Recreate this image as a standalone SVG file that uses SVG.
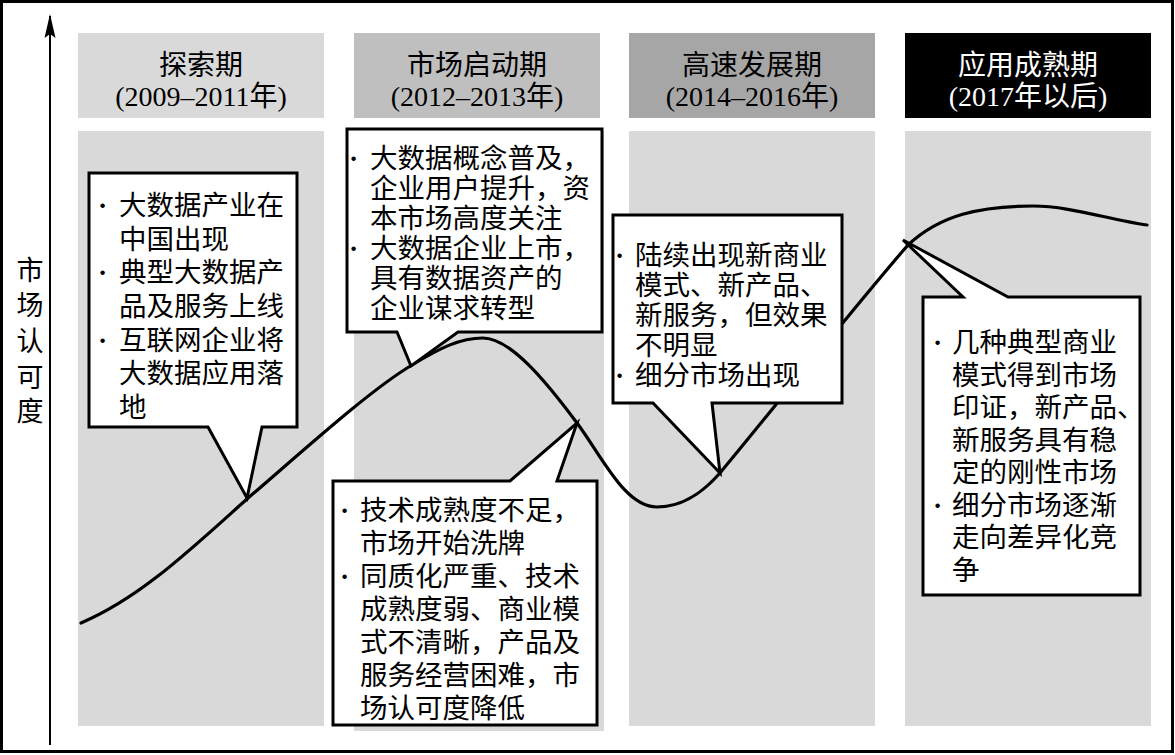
<svg xmlns="http://www.w3.org/2000/svg" width="1175" height="755" viewBox="0 0 1175 755">
<style>
  .t{font-family:"Liberation Serif","Noto Sans CJK SC",serif;fill:#000}
  .h{font-size:28px;text-anchor:middle}
  .c{font-size:27.5px}
  .b{font-weight:bold}
  .col{fill:#d9d9d9}
  .co{fill:#fff;stroke:#000;stroke-width:3;stroke-linejoin:miter}
</style>
<rect x="0" y="0" width="1175" height="755" fill="#fff"/>
<rect x="1.5" y="1.5" width="1171" height="750" fill="none" stroke="#000" stroke-width="3"/>

<!-- axis -->
<g id="axis">
  <line x1="50" y1="745" x2="50" y2="16" stroke="#000" stroke-width="2"/>
  <path d="M50,14 L55.5,38 L50,34 L44.5,38 Z" fill="#000"/>
  <g class="t" font-size="27" text-anchor="middle">
    <text x="30" y="280">市</text>
    <text x="30" y="315">场</text>
    <text x="30" y="351">认</text>
    <text x="30" y="387">可</text>
    <text x="30" y="421">度</text>
  </g>
</g>

<!-- stage columns -->
<g id="stage1">
  <rect x="78" y="33" width="246" height="85" fill="#d9d9d9"/>
  <rect class="col" x="78" y="131" width="246" height="595"/>
  <text class="t h" x="201" y="75">探索期</text>
  <text class="t h" x="201" y="106">(2009–2011年)</text>
</g>
<g id="stage2">
  <rect x="354" y="33" width="246" height="85" fill="#bfbfbf"/>
  <rect class="col" x="354" y="131" width="250" height="600"/>
  <text class="t h" x="477" y="75">市场启动期</text>
  <text class="t h" x="477" y="106">(2012–2013年)</text>
</g>
<g id="stage3">
  <rect x="629" y="33" width="246" height="85" fill="#a6a6a6"/>
  <rect class="col" x="629" y="131" width="246" height="595"/>
  <text class="t h" x="752" y="75">高速发展期</text>
  <text class="t h" x="752" y="106">(2014–2016年)</text>
</g>
<g id="stage4">
  <rect x="905" y="33" width="246" height="85" fill="#000"/>
  <rect class="col" x="905" y="131" width="246" height="595"/>
  <text class="t h" x="1028" y="75" style="fill:#fff">应用成熟期</text>
  <text class="t h" x="1028" y="106" style="fill:#fff">(2017年以后)</text>
</g>

<!-- connectors: market curve -->
<g id="connectors">
  <path d="M81,623 C140,598 190,550 247,499 C304,450 370,390 412,365 C440,348 460,338 483,338 C510,338 545,380 577,423 C603,458 625,507 657,507 C685,507 705,490 720,473 C760,425 860,300 908,245 C940,215 980,206 1033,206 C1070,206 1110,220 1147,225" fill="none" stroke="#000" stroke-width="3.2" stroke-linecap="round"/>
</g>

<!-- callouts -->
<g id="callout1">
  <path class="co" d="M89,173 H297 V427 H262 L247,498 L208,427 H89 Z"/>
  <text class="t c">
    <tspan class="b" x="98" y="215">·</tspan><tspan x="119" y="215">大数据产业在</tspan>
    <tspan x="119" y="249">中国出现</tspan>
    <tspan class="b" x="98" y="282">·</tspan><tspan x="119" y="282">典型大数据产</tspan>
    <tspan x="119" y="316">品及服务上线</tspan>
    <tspan class="b" x="98" y="350">·</tspan><tspan x="119" y="350">互联网企业将</tspan>
    <tspan x="119" y="383">大数据应用落</tspan>
    <tspan x="119" y="417">地</tspan>
  </text>
</g>
<g id="callout2">
  <path class="co" d="M347,129 H602 V332 H458 L411,366 L397,332 H347 Z"/>
  <text class="t c">
    <tspan class="b" x="349" y="168">·</tspan><tspan x="370" y="168">大数据概念普及，</tspan>
    <tspan x="370" y="198">企业用户提升，资</tspan>
    <tspan x="370" y="228">本市场高度关注</tspan>
    <tspan class="b" x="349" y="258">·</tspan><tspan x="370" y="258">大数据企业上市，</tspan>
    <tspan x="370" y="288">具有数据资产的</tspan>
    <tspan x="370" y="318">企业谋求转型</tspan>
  </text>
</g>
<g id="callout3">
  <path class="co" d="M333,481 H510 L577,423 L557,481 H597 V725 H333 Z"/>
  <text class="t c">
    <tspan class="b" x="340" y="520">·</tspan><tspan x="360" y="520">技术成熟度不足，</tspan>
    <tspan x="360" y="553">市场开始洗牌</tspan>
    <tspan class="b" x="340" y="586">·</tspan><tspan x="360" y="586">同质化严重、技术</tspan>
    <tspan x="360" y="619">成熟度弱、商业模</tspan>
    <tspan x="360" y="652">式不清晰，产品及</tspan>
    <tspan x="360" y="685">服务经营困难，市</tspan>
    <tspan x="360" y="718">场认可度降低</tspan>
  </text>
</g>
<g id="callout4">
  <path class="co" d="M613,215 H842 V403 H712 L720,473 L653,403 H613 Z"/>
  <text class="t c">
    <tspan class="b" x="615" y="265">·</tspan><tspan x="635" y="265">陆续出现新商业</tspan>
    <tspan x="635" y="295">模式、新产品、</tspan>
    <tspan x="635" y="325">新服务，但效果</tspan>
    <tspan x="635" y="355">不明显</tspan>
    <tspan class="b" x="615" y="385">·</tspan><tspan x="635" y="385">细分市场出现</tspan>
  </text>
</g>
<g id="callout5">
  <path class="co" d="M923,297 H963 L903,240 L1008,297 H1140 V595 H923 Z"/>
  <text class="t c">
    <tspan class="b" x="933" y="352">·</tspan><tspan x="952" y="352">几种典型商业</tspan>
    <tspan x="952" y="385">模式得到市场</tspan>
    <tspan x="952" y="417">印证，新产品、</tspan>
    <tspan x="952" y="450">新服务具有稳</tspan>
    <tspan x="952" y="482">定的刚性市场</tspan>
    <tspan class="b" x="933" y="515">·</tspan><tspan x="952" y="515">细分市场逐渐</tspan>
    <tspan x="952" y="547">走向差异化竞</tspan>
    <tspan x="952" y="580">争</tspan>
  </text>
</g>
</svg>
